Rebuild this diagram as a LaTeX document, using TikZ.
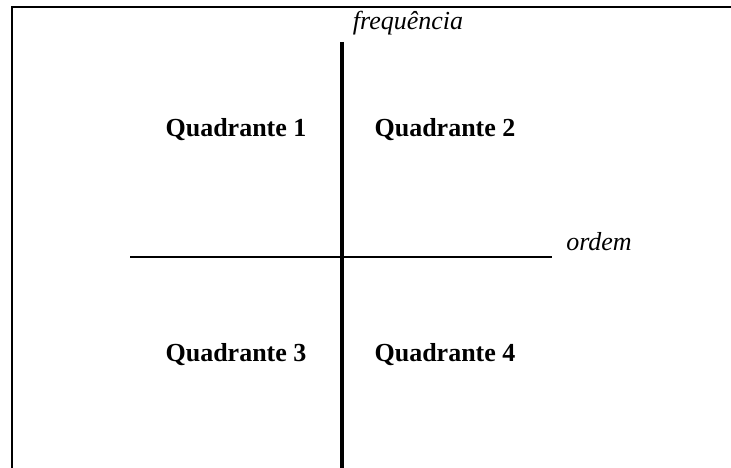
\documentclass[tikz,border=0pt]{standalone}
\usepackage{fontspec}
\setmainfont{Liberation Serif}
\usepackage{tikz}
\usetikzlibrary{positioning}

\tikzset{
  quad/.style={font=\fontsize{26}{30}\selectfont\bfseries, anchor=base},
  axlabel/.style={font=\fontsize{26}{30}\selectfont\itshape, anchor=base}
}

\begin{document}
\begin{tikzpicture} [x=1pt,y=-1pt]
      \useasboundingbox (0,0) rectangle (731,468);
      % frame, only top and left edges
      \draw[line width=2.3pt] (12,468) -- (12,7) -- (731,7);
      % axes
      \coordinate (ftop) at (342,42);
      \coordinate (fbot) at (342,468);
      \coordinate (oleft) at (130,257);
      \coordinate (oright) at (552,257);
      \draw[line width=4pt] (ftop) -- (fbot);
      \draw[line width=2pt] (oleft) -- (oright);
      \node[axlabel] (freq) at (408,30) {frequência};
      \node[axlabel] (ordem) at (599,250) {ordem};
      % quadrants
      \node[quad] (q1) at (236,137) {Quadrante 1};
      \node[quad] (q2) at (445,137) {Quadrante 2};
      \node[quad] (q3) at (236,361) {Quadrante 3};
      \node[quad] (q4) at (445,361) {Quadrante 4};
    \end{tikzpicture}
\end{document}
